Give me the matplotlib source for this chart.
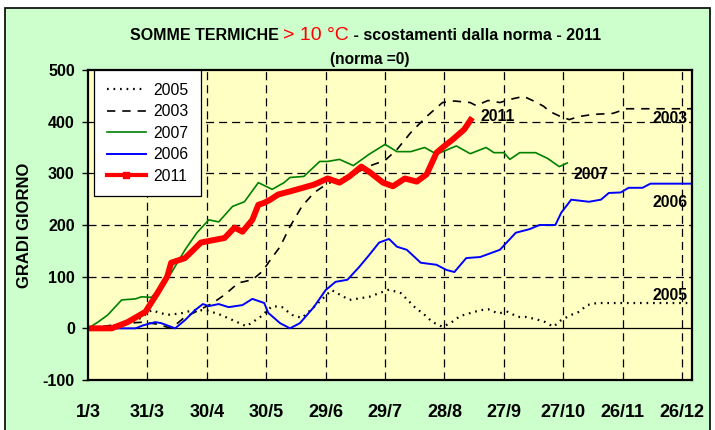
import matplotlib
matplotlib.use('Agg')
import matplotlib.pyplot as plt
from matplotlib.lines import Line2D
from matplotlib.patches import Rectangle
from matplotlib.transforms import offset_copy

plt.rcParams['font.family'] = ['Liberation Sans', 'DejaVu Sans']
plt.rcParams['lines.scale_dashes'] = False
plt.rcParams['axes.unicode_minus'] = False

# days counted from 1 March
tick_days = [0, 30, 60, 90, 120, 150, 180, 210, 240, 270, 300]
tick_labels = ['1/3', '31/3', '30/4', '30/5', '29/6', '29/7', '28/8', '27/9', '27/10', '26/11', '26/12']

days_2005 = [0, 10, 20, 25, 32, 40, 47, 53, 60, 67, 73, 80, 87, 93, 98, 103, 108, 114, 123, 132,
             142, 152, 158, 165, 170, 174, 179, 183, 188, 198, 202, 207, 212, 217, 221, 226, 231,
             235, 239, 244, 248, 252, 257, 305]
vals_2005 = [0, 3, 12, 16, 35, 26, 29, 35, 35, 26, 16, 4, 22, 43, 41, 26, 20, 41, 74, 55,
             61, 75, 68, 41, 26, 12, 3, 10, 24, 35, 37, 29, 32, 22, 22, 18, 12,
             3, 16, 26, 32, 45, 49, 49]

days_2003 = [0, 10, 20, 28, 35, 42, 49, 56, 63, 69, 76, 83, 88, 92, 97, 102, 108, 114, 120, 126,
             134, 142, 150, 156, 163, 171, 179, 185, 193, 196, 202, 208, 213, 220, 225, 230, 233,
             238, 243, 248, 255, 265, 272, 282, 305]
vals_2003 = [0, 5, 10, 12, 8, 0, 22, 35, 49, 65, 88, 94, 110, 132, 158, 197, 236, 262, 278, 288,
             298, 314, 325, 346, 379, 410, 437, 440, 437, 431, 441, 437, 443, 449, 440, 430, 420,
             411, 404, 410, 414, 416, 425, 425, 425]

days_2007 = [0, 5, 10, 17, 24, 27, 32, 37, 42, 49, 55, 61, 66, 73, 79, 86, 93, 99, 102, 109,
             117, 121, 127, 134, 142, 150, 156, 163, 170, 176, 186, 193, 201, 205, 210, 213, 218,
             226, 232, 238, 242]
vals_2007 = [0, 12, 26, 55, 57, 61, 60, 80, 107, 152, 185, 210, 206, 236, 245, 282, 269, 282, 292, 294,
             323, 323, 327, 315, 337, 356, 342, 342, 350, 337, 353, 338, 350, 340, 340, 327, 340,
             340, 329, 313, 320]

days_2006 = [0, 15, 24, 28, 34, 37, 44, 49, 54, 58, 61, 66, 71, 78, 83, 89, 91, 97, 102, 107,
             114, 120, 125, 131, 137, 142, 147, 152, 156, 161, 168, 176, 181, 185, 191, 198, 208,
             216, 223, 228, 236, 239, 244, 253, 259, 263, 269, 273, 280, 284, 305]
vals_2006 = [0, 0, 0, 6, 12, 10, 0, 16, 35, 47, 43, 47, 41, 45, 57, 49, 30, 10, 0, 10,
             41, 74, 90, 94, 119, 142, 166, 173, 158, 152, 127, 123, 113, 109, 136, 138, 152,
             185, 192, 200, 200, 224, 249, 245, 249, 262, 263, 272, 272, 280, 280]

days_2011 = [0, 12, 20, 29, 35, 40, 42, 49, 57, 69, 74, 78, 83, 86, 89, 92, 96, 102, 114, 121,
             127, 132, 138, 142, 149, 154, 160, 166, 171, 176, 180, 184, 190, 194]
vals_2011 = [0, 0, 12, 32, 68, 100, 127, 136, 166, 175, 195, 187, 210, 239, 243, 249, 259, 265, 278, 290,
             282, 294, 313, 303, 282, 275, 290, 284, 298, 340, 353, 365, 385, 408]

fig = plt.figure(figsize=(7.15, 4.30), dpi=100, facecolor='white')
fig.patches.append(Rectangle((5 / 715, -0.05), 705 / 715, 1.05 - 8 / 430, transform=fig.transFigure,
                             facecolor='#CCFFCC', edgecolor='black', linewidth=1.2, zorder=-5))

ax = fig.add_axes([88 / 715, 50 / 430, 604 / 715, 310 / 430])
ax.set_zorder(2)
ax.set_facecolor('#FFFFC4')

ax.plot(days_2005, vals_2005, color='black', lw=1.6, linestyle=(0, (1.2, 3.5)), label='2005')
ax.plot(days_2003, vals_2003, color='black', lw=1.2, linestyle=(0, (6, 5)), label='2003')
ax.plot(days_2007, vals_2007, color='#008000', lw=1.2, label='2007')
ax.plot(days_2006, vals_2006, color='#0000FF', lw=1.4, label='2006')
ax.plot(days_2011, vals_2011, color='#FF0000', lw=4.3, solid_capstyle='butt')

ax.set_xlim(0, 305)
ax.set_ylim(-100, 500)
ax.set_xticks(tick_days)
ax.set_xticklabels(tick_labels, fontsize=13, fontweight='bold')
ax.set_yticks(range(-100, 501, 100))
ax.tick_params(axis='x', length=0, pad=17)
ax.tick_params(axis='y', length=4.5, width=1, pad=5, labelsize=11.5)
for lab in ax.get_yticklabels():
    lab.set_fontweight('bold')

for d in tick_days[1:]:
    ax.axvline(d, color='black', lw=0.9, linestyle=(0, (5.8, 3.6)), zorder=1)
for v in [100, 200, 300, 400]:
    ax.axhline(v, color='black', lw=0.9, linestyle=(0, (5.8, 3.6)), zorder=1)
ax.axhline(0, color='black', lw=0.9, zorder=1)

for sp in ax.spines.values():
    sp.set_linewidth(1.6)

ax.set_ylabel('GRADI GIORNO', fontsize=12, fontweight='bold', labelpad=8)

red_handle = Line2D([], [], color='#FF0000', lw=3, marker='s', markersize=5)
handles, labels = ax.get_legend_handles_labels()
leg = ax.legend(handles + [red_handle], labels + ['2011'], loc='upper left',
                bbox_to_anchor=(0.01, 1.0), borderaxespad=0, fontsize=11.3,
                fancybox=False, framealpha=1, edgecolor='black', handlelength=2.5,
                labelspacing=0.42, borderpad=0.8, handletextpad=0.45)
leg.get_frame().set_linewidth(0.9)

label_style = dict(fontsize=11.3, fontweight='bold', va='center', ha='left')
ax.text(198, 410, '2011', **label_style)
ax.text(285, 406, '2003', **label_style)
ax.text(245, 298, '2007', **label_style)
ax.text(285, 243, '2006', **label_style)
ax.text(285, 63, '2005', **label_style)

# title in three coloured pieces
renderer = fig.canvas.get_renderer()
x0, ybase = 130 / 715, 1 - 40 / 430
t1 = fig.text(x0, ybase, 'SOMME TERMICHE ', fontsize=11.5, fontweight='bold', va='baseline')
w1 = t1.get_window_extent(renderer).width
t2 = fig.text(x0, ybase, '> 10 °C', fontsize=14, color='#FF0000', va='baseline',
              transform=offset_copy(fig.transFigure, fig=fig, x=w1, y=0, units='dots'))
w2 = t2.get_window_extent(renderer).width
fig.text(x0, ybase, ' - scostamenti dalla norma - 2011', fontsize=11.5, fontweight='bold',
         va='baseline', transform=offset_copy(fig.transFigure, fig=fig, x=w1 + w2, y=0, units='dots'))
fig.text(370 / 715, 1 - 64 / 430, '(norma =0)', fontsize=11.2, fontweight='bold',
         ha='center', va='baseline')

fig.savefig('out.png', dpi=100, facecolor=fig.get_facecolor())
